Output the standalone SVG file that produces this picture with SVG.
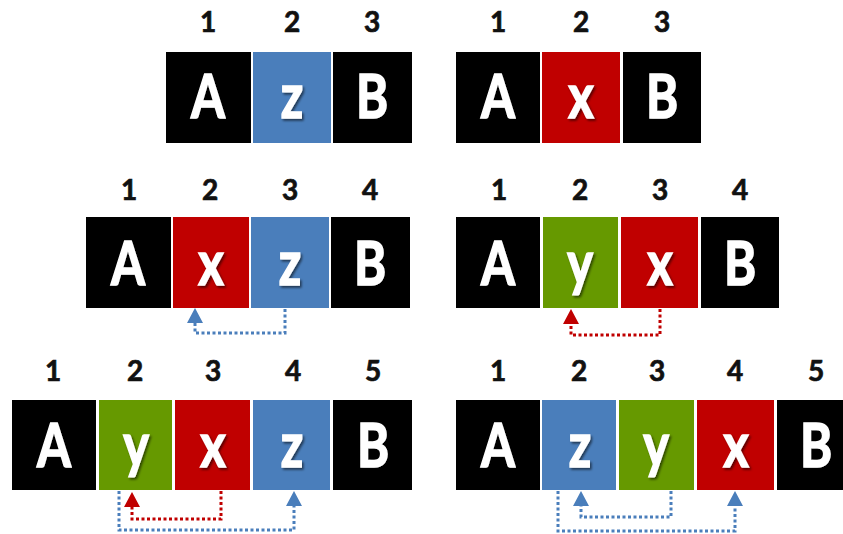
<svg xmlns="http://www.w3.org/2000/svg" width="843" height="534" viewBox="0 0 843 534">
<defs>
<style>
.k{fill:#000}
.b{fill:#4A7EBB}
.r{fill:#C00000}
.g{fill:#669900}
.num{font-family:"Lato","Liberation Sans",sans-serif;font-weight:bold;font-size:28px;fill:#111;stroke:#111;stroke-width:0.7;text-anchor:middle}
.let{font-family:"Lato","Liberation Sans",sans-serif;font-weight:bold;font-size:61px;fill:#fff;stroke:#fff;stroke-width:1.6;text-anchor:middle;filter:url(#sh)}
.db{fill:none;stroke:#4A7EBB;stroke-width:3;stroke-dasharray:3 2.5}
.dr{fill:none;stroke:#C00000;stroke-width:3;stroke-dasharray:3 2.5}
.hb{fill:#4A7EBB}
.hr{fill:#C00000}
</style>
<filter id="sh" x="-30%" y="-30%" width="160%" height="160%">
<feDropShadow dx="2" dy="2" stdDeviation="1.2" flood-color="#000" flood-opacity="0.55"/>
</filter>
</defs>
<rect width="843" height="534" fill="#fff"/>

<!-- Row 1 left -->
<g id="r1l-n1"><text class="num" x="208" y="32">1</text><rect class="k" x="166" y="52" width="85" height="91"/><text class="let" transform="translate(208,118) scale(0.8,1)">A</text></g>
<g id="r1l-n2"><text class="num" x="292" y="32">2</text><rect class="b" x="253" y="52" width="78" height="91"/><text class="let" transform="translate(292,118) scale(0.8,1)">z</text></g>
<g id="r1l-n3"><text class="num" x="372" y="32">3</text><rect class="k" x="333" y="52" width="79" height="91"/><text class="let" transform="translate(372,118) scale(0.8,1)">B</text></g>

<!-- Row 1 right -->
<g id="r1r-n1"><text class="num" x="498" y="32">1</text><rect class="k" x="456" y="52" width="84" height="91"/><text class="let" transform="translate(498,118) scale(0.8,1)">A</text></g>
<g id="r1r-n2"><text class="num" x="581" y="32">2</text><rect class="r" x="542" y="52" width="78" height="91"/><text class="let" transform="translate(581,118) scale(0.8,1)">x</text></g>
<g id="r1r-n3"><text class="num" x="662" y="32">3</text><rect class="k" x="623" y="52" width="78" height="91"/><text class="let" transform="translate(662,118) scale(0.8,1)">B</text></g>

<!-- Row 2 left -->
<g id="r2l-n1"><text class="num" x="129" y="200">1</text><rect class="k" x="86" y="217" width="85" height="91"/><text class="let" transform="translate(128,285) scale(0.8,1)">A</text></g>
<g id="r2l-n2"><text class="num" x="210" y="200">2</text><rect class="r" x="173" y="217" width="76" height="91"/><text class="let" transform="translate(211,285) scale(0.8,1)">x</text></g>
<g id="r2l-n3"><text class="num" x="290" y="200">3</text><rect class="b" x="251" y="217" width="78" height="91"/><text class="let" transform="translate(290,285) scale(0.8,1)">z</text></g>
<g id="r2l-n4"><text class="num" x="370" y="200">4</text><rect class="k" x="331" y="217" width="79" height="91"/><text class="let" transform="translate(370,285) scale(0.8,1)">B</text></g>

<!-- Row 2 right -->
<g id="r2r-n1"><text class="num" x="499" y="200">1</text><rect class="k" x="456" y="217" width="84" height="91"/><text class="let" transform="translate(498,285) scale(0.8,1)">A</text></g>
<g id="r2r-n2"><text class="num" x="580" y="200">2</text><rect class="g" x="543" y="217" width="75" height="91"/><text class="let" transform="translate(580,285) scale(0.8,1)">y</text></g>
<g id="r2r-n3"><text class="num" x="660" y="200">3</text><rect class="r" x="621" y="217" width="77" height="91"/><text class="let" transform="translate(660,285) scale(0.8,1)">x</text></g>
<g id="r2r-n4"><text class="num" x="740" y="200">4</text><rect class="k" x="701" y="217" width="78" height="91"/><text class="let" transform="translate(740,285) scale(0.8,1)">B</text></g>

<!-- Row 3 left -->
<g id="r3l-n1"><text class="num" x="53" y="381">1</text><rect class="k" x="12" y="400" width="84" height="90"/><text class="let" transform="translate(54,467) scale(0.8,1)">A</text></g>
<g id="r3l-n2"><text class="num" x="135" y="381">2</text><rect class="g" x="99" y="400" width="73" height="90"/><text class="let" transform="translate(136,467) scale(0.8,1)">y</text></g>
<g id="r3l-n3"><text class="num" x="213" y="381">3</text><rect class="r" x="175" y="400" width="75" height="90"/><text class="let" transform="translate(213,467) scale(0.8,1)">x</text></g>
<g id="r3l-n4"><text class="num" x="293" y="381">4</text><rect class="b" x="253" y="400" width="77" height="90"/><text class="let" transform="translate(292,467) scale(0.8,1)">z</text></g>
<g id="r3l-n5"><text class="num" x="373" y="381">5</text><rect class="k" x="333" y="400" width="79" height="90"/><text class="let" transform="translate(373,467) scale(0.8,1)">B</text></g>

<!-- Row 3 right -->
<g id="r3r-n1"><text class="num" x="498" y="381">1</text><rect class="k" x="456" y="400" width="84" height="90"/><text class="let" transform="translate(498,467) scale(0.8,1)">A</text></g>
<g id="r3r-n2"><text class="num" x="579" y="381">2</text><rect class="b" x="542" y="400" width="74" height="90"/><text class="let" transform="translate(580,467) scale(0.8,1)">z</text></g>
<g id="r3r-n3"><text class="num" x="657" y="381">3</text><rect class="g" x="619" y="400" width="75" height="90"/><text class="let" transform="translate(656,467) scale(0.8,1)">y</text></g>
<g id="r3r-n4"><text class="num" x="735" y="381">4</text><rect class="r" x="697" y="400" width="77" height="90"/><text class="let" transform="translate(736,467) scale(0.8,1)">x</text></g>
<g id="r3r-n5"><text class="num" x="816" y="381">5</text><rect class="k" x="777" y="400" width="70" height="90"/><text class="let" transform="translate(816,467) scale(0.8,1)">B</text></g>

<!-- Connectors -->
<g id="connectors">
<path class="db" d="M285,309 V333 H195 V323"/>
<polygon class="hb" points="195,308 187,323 203,323"/>

<path class="dr" d="M660,309 V335 H571 V324"/>
<polygon class="hr" points="571,309 563,324 579,324"/>

<path class="dr" d="M221,491 V519 H132 V507"/>
<polygon class="hr" points="132,492 124,507 140,507"/>
<path class="db" d="M119,491 V530 H294 V506"/>
<polygon class="hb" points="294,491 286,506 302,506"/>

<path class="db" d="M671,491 V517 H581 V506"/>
<polygon class="hb" points="581,491 573,506 589,506"/>
<path class="db" d="M558,491 V531 H735 V506"/>
<polygon class="hb" points="735,491 727,506 743,506"/>
</g>
</svg>
